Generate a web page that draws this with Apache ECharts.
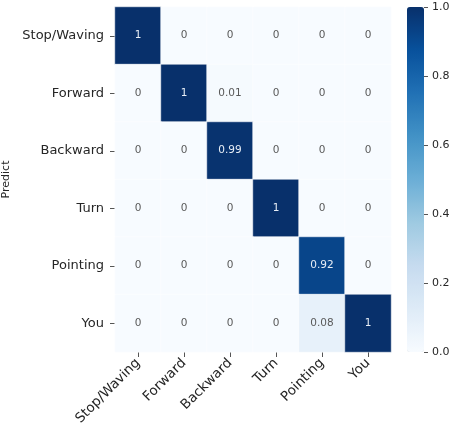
<!DOCTYPE html>
<html>
<head>
<meta charset="utf-8">
<script src="https://cdn.jsdelivr.net/npm/echarts@6/dist/echarts.min.js"></script>
<style>
  html, body { margin: 0; padding: 0; background: #fff; }
</style>
</head>
<body>
<!-- chart container -->
<div id="cm" style="width: 450px; height: 429px"></div>
<script>
// class names (x = true, y = predicted)
const classes = ["Stop/Waving", "Forward", "Backward", "Turn", "Pointing", "You"];

// one row per predicted class
const rowStopWaving = [1, 0, 0, 0, 0, 0];
const rowForward    = [0, 1, 0.01, 0, 0, 0];
const rowBackward   = [0, 0, 0.99, 0, 0, 0];
const rowTurn       = [0, 0, 0, 1, 0, 0];
const rowPointing   = [0, 0, 0, 0, 0.92, 0];
const rowYou        = [0, 0, 0, 0, 0.08, 1];

const colorbarTicks = [0, 0.2, 0.4, 0.6, 0.8, 1.0];

const rows = [rowStopWaving, rowForward, rowBackward, rowTurn, rowPointing, rowYou];

// heatmap cells: [x, y, value]
const cells = [];
rows.forEach((r, y) => {
  r.forEach((v, x) => {
    cells.push({
      value: [x, y, v],
      label: { color: v > 0.5 ? "#e8eef6" : "#5a5a5a" }
    });
  });
});

const font = "DejaVu Sans";
let chart = echarts.init(document.getElementById("cm"));

let option = {
  animation: false,
  textStyle: { fontFamily: font },
  grid: [
    { left: 115, top: 7, width: 276, height: 345, outerBoundsMode: "none", containLabel: false },
    // colorbar axis lives on the bar's right edge
    { left: 424, top: 7, width: 20, height: 345, outerBoundsMode: "none", containLabel: false }
  ],
  xAxis: [
    {
      type: "category",
      gridIndex: 0,
      data: classes,
      axisLine: { show: false },
      axisTick: { show: true, alignWithLabel: true, length: 5, lineStyle: { color: "#555" } },
      axisLabel: { rotate: 45, fontSize: 13.5, color: "#262626", margin: 9, fontFamily: font, interval: 0 },
      splitLine: { show: false }
    },
    { type: "value", gridIndex: 1, show: false, min: 0, max: 1 }
  ],
  yAxis: [
    {
      type: "category",
      gridIndex: 0,
      inverse: true,
      data: classes,
      name: "Predict",
      nameLocation: "middle",
      nameGap: 96,
      nameTextStyle: { fontSize: 11, color: "#262626", fontFamily: font },
      axisLine: { show: false },
      axisTick: { show: true, alignWithLabel: true, length: 5, lineStyle: { color: "#555" } },
      axisLabel: { fontSize: 13, color: "#262626", margin: 11, fontFamily: font, interval: 0 },
      splitLine: { show: false }
    },
    {
      type: "value",
      gridIndex: 1,
      position: "left",
      min: 0,
      max: 1,
      interval: 0.2,
      axisLine: { show: false },
      axisTick: { show: true, inside: true, length: 4, lineStyle: { color: "#555", width: 1 } },
      axisLabel: {
        inside: true,
        fontSize: 11, color: "#262626", margin: 8, fontFamily: font,
        formatter: (v) => v.toFixed(1)
      },
      splitLine: { show: false }
    }
  ],
  visualMap: {
    type: "continuous",
    min: 0,
    max: 1,
    seriesIndex: 0,
    calculable: false,
    showLabel: false,
    text: null,
    orient: "vertical",
    left: 407,
    top: 7,
    padding: 0,
    itemWidth: 17,
    itemHeight: 345,
    inRange: {
      color: ["#f7fbff", "#deebf7", "#c6dbef", "#9ecae1", "#6baed6",
              "#4292c6", "#2171b5", "#08519c", "#08306b"]
    }
  },
  series: [
    {
      type: "heatmap",
      xAxisIndex: 0,
      yAxisIndex: 0,
      data: cells,
      itemStyle: { borderColor: "#fff", borderWidth: 0.5 },
      label: {
        show: true,
        fontSize: 10.5,
        fontFamily: font,
        formatter: (p) => String(p.value[2])
      },
      emphasis: { disabled: true }
    },
    {
      type: "scatter",
      xAxisIndex: 1,
      yAxisIndex: 1,
      data: colorbarTicks.map(() => null),
      silent: true
    }
  ]
};

chart.setOption(option);
</script>
</body>
</html>
